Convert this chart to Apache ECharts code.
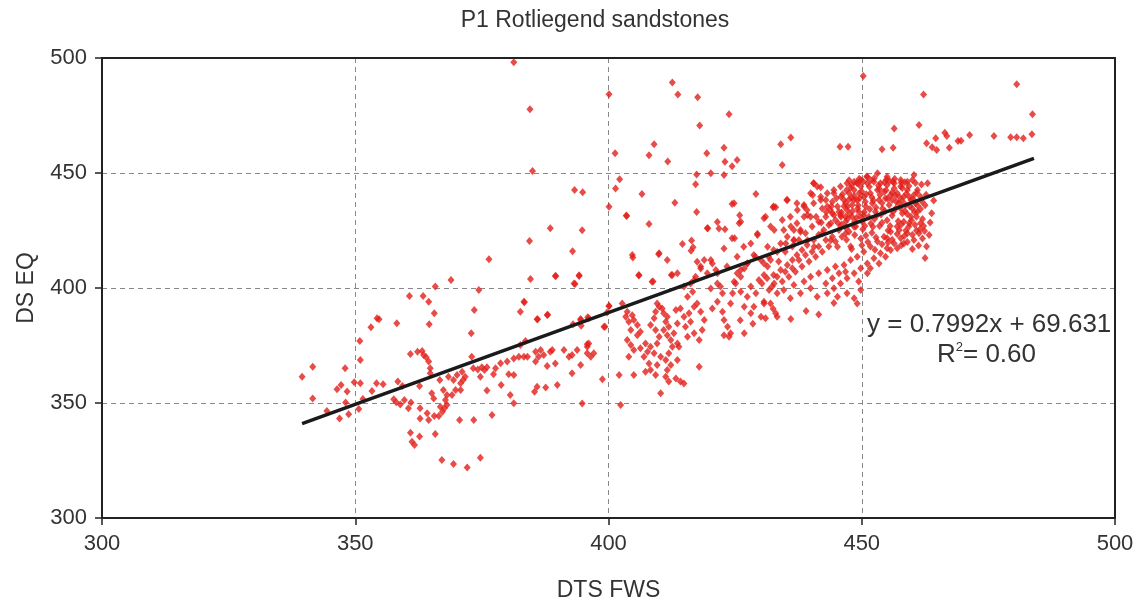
<!DOCTYPE html>
<html><head><meta charset="utf-8">
<script src="https://cdn.jsdelivr.net/npm/echarts@6/dist/echarts.min.js"></script>
<style>html,body{margin:0;padding:0;background:#fff}#c{width:1137px;height:603px}</style>
</head><body><div id="c"></div>
<script>
var titleText = "P1 Rotliegend sandstones";
var xName = "DTS FWS";
var yName = "DS EQ";
var xTicks = [300, 350, 400, 450, 500];
var yTicks = [300, 350, 400, 450, 500];
var eqText = "y = 0.7992x + 69.631";
var r2Text = "0.60";
var trendLine = [[339.5, 341.0], [484, 456.4]];

var leftPts = [[339.5,361.4],[341.6,365.8],[341.6,352.0],[344.4,346.5],[346.9,343.3],[346.4,356.0],[347.2,357.8],[348.0,365.1],[348.4,355.0],[348.1,350.2],[348.7,345.1],[349.8,359.0],[350.7,347.4],[350.9,377.0],[351.0,368.7],[351.0,358.6],[351.5,351.7],[353.1,382.9],[354.3,386.8],[354.7,386.4],[353.3,355.2],[354.2,358.6],[355.5,358.1],[357.6,351.6],[358.1,350.3],[358.9,349.4],[358.2,384.7],[358.4,359.3],[359.3,357.4],[359.7,351.3],[360.5,347.7],[360.7,396.5],[360.9,371.3],[361.0,350.2],[360.9,337.1],[361.2,333.2],[361.7,331.7],[362.3,372.3],[363.2,372.6],[363.5,370.9],[364.0,369.9],[364.5,368.0],[364.8,365.1],[362.7,357.4],[362.8,347.7],[362.8,343.3],[362.7,335.4],[363.4,396.5],[364.5,394.0],[364.6,384.2],[365.6,389.0],[364.2,345.5],[364.5,342.6],[365.1,354.2],[365.5,352.0],[365.6,344.3],[366.5,344.3],[367.2,346.2],[366.8,348.4],[365.8,336.5],[365.8,400.6],[364.8,362.9],[366.7,360.0],[367.4,355.7],[367.8,351.3],[368.1,353.5],[367.1,325.2],[369.4,323.5],[372.1,322.0],[374.7,326.2],[370.6,342.6],[373.4,342.6],[377.0,344.8],[368.9,403.5],[368.4,361.4],[369.4,360.0],[370.1,362.2],[371.1,363.6],[371.7,361.4],[370.8,358.6],[369.8,355.7],[369.1,353.5],[370.8,355.7],[371.3,360.0],[368.1,349.1],[367.6,347.7],[373.0,370.1],[372.9,380.3],[373.5,390.4],[374.4,399.1],[373.3,365.1],[374.2,364.6],[375.0,365.5],[375.5,364.3],[374.7,361.4],[376.0,365.5],[377.7,365.1],[377.3,362.5],[378.7,367.3],[380.0,368.0],[381.3,369.4],[382.3,370.1],[383.3,370.1],[384.0,370.1],[381.3,362.2],[380.6,353.5],[380.3,362.5],[378.8,357.8],[376.0,355.4],[381.3,349.9],[382.6,389.7],[383.3,394.0]];

var upperPts = [[376.4,412.5],[384.4,420.4],[385.0,450.9],[384.6,403.9],[383.4,393.8],[386.0,386.4],[388.0,388.4],[388.5,426.0],[389.6,405.2],[392.9,416.0],[393.3,442.6],[394.9,441.6],[394.8,425.1],[394.2,405.5],[393.4,401.7],[394.5,386.5],[395.9,387.3],[393.0,384.2],[394.6,383.6],[399.3,383.2],[400.1,435.3],[401.3,458.6],[401.4,443.3],[402.2,447.3],[400.1,392.2],[399.7,389.4],[395.8,375.5],[383.6,377.0],[382.6,375.2],[381.3,498.1],[384.5,477.7],[400.1,484.2],[403.5,431.5],[406.6,440.9],[408.0,457.7],[409.0,462.5],[408.0,427.8],[411.7,455.0],[412.6,489.4],[413.7,484.1],[417.6,482.9],[423.8,475.5],[418.0,470.7],[419.4,458.6],[422.8,461.0],[423.0,454.9],[425.4,455.7],[424.4,452.9],[417.4,449.4],[420.2,449.9],[422.8,449.1],[417.2,445.1],[413.1,437.1],[417.4,433.0],[424.4,436.5],[425.9,431.6],[425.8,428.1],[423.0,425.5],[421.5,428.7],[419.5,426.0],[429.1,440.9],[429.4,423.6],[424.9,421.6],[414.6,419.1],[416.4,420.6],[416.7,417.7],[450.3,492.2],[462.2,484.1],[480.6,488.6],[483.7,475.5],[461.3,470.9],[456.4,469.4],[456.2,461.0],[454.0,460.3],[462.8,462.9],[463.9,461.2],[464.8,460.0],[464.6,465.1],[466.4,467.5],[466.8,466.1],[467.3,461.0],[469.0,463.9],[469.6,464.0],[471.3,466.5],[476.1,466.1],[479.4,465.5],[480.6,465.5],[481.9,465.1],[483.6,466.8],[403.6,431.3],[404.8,413.3],[406.0,405.4],[408.8,402.8],[409.9,414.7],[412.4,405.7],[416.3,416.2],[419.6,426.0],[430.7,430.3],[432.5,435.1],[433.0,435.1],[434.0,462.5],[436.0,465.4],[434.3,453.5],[435.2,438.3],[440.5,445.5],[441.9,443.8],[445.7,461.4],[447.3,461.4],[460.3,449.1]];

var midPts = [[385.6,372.3],[386.6,373.0],[386.2,370.1],[387.2,370.9],[388.5,372.3],[388.9,373.0],[385.6,368.0],[387.9,366.1],[389.5,367.2],[391.2,373.0],[392.2,370.1],[392.8,370.9],[393.8,373.0],[394.5,366.5],[395.8,374.5],[395.8,371.6],[396.5,370.1],[397.1,371.6],[396.1,375.9],[392.8,362.9],[385.9,357.1],[385.4,354.9],[387.6,356.7],[389.9,357.8],[398.8,360.3],[394.8,349.8],[394.5,386.1],[396.1,386.8],[399.1,383.2],[400.1,392.2],[385.9,386.4],[387.9,388.3],[389.5,405.2],[393.2,402.0],[394.2,405.2],[402.7,393.3],[403.7,389.7],[403.4,387.5],[404.0,385.3],[404.7,388.2],[405.0,386.1],[405.7,383.9],[404.4,381.7],[403.7,377.4],[405.7,379.5],[406.3,381.0],[404.4,375.2],[405.0,373.0],[404.0,370.1],[405.0,362.2],[402.1,362.2],[402.4,349.1],[406.3,373.8],[407.3,375.9],[407.7,372.3],[408.3,374.5],[409.0,371.6],[407.0,370.1],[408.0,367.2],[408.3,364.3],[409.3,362.2],[407.3,363.6],[409.6,366.5],[410.3,370.1],[409.6,375.9],[410.0,378.8],[409.3,381.7],[408.3,383.9],[409.0,386.8],[409.3,389.7],[410.0,391.9],[409.6,393.3],[410.6,391.1],[410.9,389.0],[411.6,387.5],[411.3,385.3],[411.9,383.2],[410.9,381.7],[411.6,379.5],[412.3,377.4],[412.9,380.3],[412.6,374.5],[413.6,375.9],[411.9,371.6],[411.3,368.7],[412.3,366.5],[411.6,364.3],[411.3,361.4],[411.9,359.3],[413.3,360.7],[414.2,359.3],[414.9,358.5],[413.6,368.7],[413.9,374.5],[413.6,384.6],[413.3,390.4],[414.2,391.1],[414.9,387.5],[415.2,383.2],[416.2,385.3],[415.6,378.8],[416.9,380.3],[415.9,389.0],[416.9,391.9],[417.5,393.3],[418.2,389.7],[418.9,386.1],[418.5,381.7],[417.9,377.4],[417.9,365.8],[410.3,354.2],[415.6,396.2],[416.6,398.4],[416.2,402.0],[417.2,404.9],[418.2,408.5],[417.5,411.4],[418.9,412.2],[420.5,410.7],[419.5,406.4],[421.2,407.8],[420.2,399.8],[421.5,402.0],[422.5,397.7],[421.5,394.0],[420.5,391.1],[422.5,389.7],[422.8,386.1],[423.5,383.2],[424.1,380.3],[424.1,393.3],[424.5,397.7],[425.1,402.0],[426.1,404.9],[425.4,406.4],[426.8,408.5],[427.4,410.7],[426.1,398.4],[427.4,396.2],[426.8,391.9],[428.1,389.0],[428.7,391.9],[430.1,387.5],[431.0,386.8],[430.7,394.0],[429.1,397.7],[428.1,400.6],[429.7,403.5],[430.7,405.6],[431.4,409.3],[430.1,412.2],[428.7,414.3],[432.0,412.2],[432.7,402.0],[433.3,404.9],[431.7,399.1],[432.0,393.3],[433.3,387.5],[426.8,380.3],[422.8,379.5],[423.8,378.8],[404.7,414.3],[406.0,405.6],[410.0,415.1],[412.6,405.6],[408.6,402.7],[418.2,409.3],[420.2,412.2],[421.5,406.4],[423.4,409.3],[425.4,413.6],[416.9,403.5],[414.9,400.6],[413.6,406.4],[411.6,412.2],[422.1,400.6],[424.8,402.7],[426.1,407.8],[427.4,410.7],[429.0,413.6],[436.0,386.5],[439.0,390.0],[441.5,388.5],[444.5,393.5],[432.5,391.0],[428.5,384.5],[426.0,386.0]];

var clusterPts = [[440.5,445.5],[441.2,444.1],[439.9,441.2],[442.9,438.3],[444.2,437.5],[442.2,434.6],[443.8,433.9],[445.2,435.4],[446.5,438.3],[447.5,441.2],[448.5,442.6],[449.8,444.1],[451.1,445.5],[452.4,446.2],[453.7,445.5],[455.0,444.8],[456.4,445.5],[457.7,444.1],[459.0,446.2],[460.0,447.0],[461.0,442.6],[461.6,439.7],[460.6,436.8],[459.7,438.3],[458.3,439.7],[457.0,441.2],[455.7,440.4],[454.4,441.9],[453.1,442.6],[451.7,441.2],[450.4,439.7],[449.1,438.3],[448.1,436.1],[447.1,433.9],[445.8,431.7],[444.8,429.6],[443.5,427.4],[442.5,425.2],[441.5,423.1],[440.5,420.9],[439.2,418.7],[438.2,416.5],[437.2,414.4],[436.3,412.2],[435.3,410.0],[434.0,407.8],[432.6,405.7],[431.3,404.2],[430.3,402.0],[432.3,400.6],[434.6,399.1],[436.6,401.3],[438.6,402.8],[439.9,404.9],[441.5,406.4],[443.2,407.8],[444.8,409.3],[446.5,410.0],[447.8,412.2],[449.1,413.6],[450.4,415.8],[451.7,418.0],[453.1,420.2],[454.4,422.3],[455.7,424.5],[457.0,426.7],[458.3,428.8],[459.7,431.0],[461.0,433.2],[461.6,428.1],[461.3,423.8],[460.3,420.9],[459.0,423.8],[457.7,421.6],[456.4,419.4],[455.0,417.3],[453.7,415.1],[452.4,412.9],[451.1,410.7],[449.8,408.6],[448.5,406.4],[447.1,404.2],[445.8,402.0],[444.5,399.9],[443.2,397.7],[445.2,396.2],[447.1,397.7],[448.5,395.5],[449.1,393.3],[449.8,399.1],[449.4,402.8],[451.1,406.4],[451.7,408.6],[453.4,410.7],[454.7,413.6],[455.7,416.5],[457.0,417.3],[458.3,419.4],[459.3,426.7],[458.0,432.5],[456.7,434.6],[455.4,436.1],[454.1,434.6],[452.7,433.2],[451.4,431.0],[450.1,428.8],[448.8,426.7],[447.5,424.5],[446.1,422.3],[444.8,420.2],[443.5,418.0],[442.2,415.8],[440.9,413.6],[439.6,411.5],[438.2,409.3],[436.9,407.1],[435.6,404.9],[434.3,402.8],[433.3,397.7],[430.7,393.3],[433.0,389.0],[435.9,395.5],[437.9,397.7],[439.9,399.9],[441.2,396.2],[442.9,402.0],[444.2,404.2],[445.5,406.4],[446.8,407.1],[447.8,418.0],[446.8,428.8],[445.5,425.2],[444.2,422.3],[442.9,420.9],[441.5,418.0],[440.2,415.8],[438.9,414.4],[437.6,412.2],[436.3,408.6],[434.9,407.1],[433.6,411.5],[434.9,415.8],[436.3,418.0],[437.6,420.9],[438.9,423.8],[440.2,426.7],[441.5,428.8],[442.9,431.0],[444.2,432.5],[445.5,433.2],[446.8,431.0],[448.1,431.0],[449.4,433.2],[450.8,435.4],[452.1,436.8],[453.4,438.3],[454.7,439.0],[456.0,438.3],[457.3,436.8],[458.7,436.1],[460.0,434.6],[460.3,440.4],[459.0,442.6],[457.7,447.0],[456.4,443.3],[455.0,448.4],[453.1,449.9],[451.1,448.4],[449.8,447.0],[448.5,446.2],[447.1,445.5],[445.8,444.1],[444.5,442.6],[443.2,441.2],[441.9,439.7],[440.5,436.8],[439.2,433.9],[438.6,431.0],[437.2,428.1],[436.6,425.2],[435.3,422.3],[434.0,419.4],[432.6,416.5],[431.6,413.6],[430.7,410.7],[432.0,426.7],[432.6,435.4],[431.0,431.0],[434.6,425.2],[435.9,431.0],[437.2,436.8],[438.6,435.4],[439.9,431.0],[437.9,425.2],[436.6,420.9]];

var corePts = [[448.5,440.1],[449.3,436.0],[450.0,442.0],[450.7,437.5],[451.5,444.0],[452.0,439.5],[452.8,435.0],[453.5,443.0],[454.0,437.0],[454.8,442.5],[455.5,446.5],[456.0,441.5],[456.8,437.5],[457.5,439.5],[458.0,443.5],[458.8,441.0],[459.5,435.5],[460.2,438.5],[461.0,436.0],[449.0,430.5],[450.5,433.0],[451.8,428.0],[452.5,430.0],[453.8,432.0],[455.0,429.5],[456.0,431.5],[457.2,429.0],[458.5,433.5],[459.8,429.5],[460.8,431.0],[447.5,438.5],[446.5,435.5],[447.0,442.5],[448.0,444.8],[449.5,447.5],[451.0,448.5],[452.5,447.8],[454.5,446.0],[456.5,447.5],[458.5,446.0],[450.2,425.5],[452.0,424.0],[453.5,427.0],[455.2,425.0],[457.0,423.5],[458.7,425.0],[460.5,427.5],[461.5,425.5],[462.0,430.0],[462.5,436.0],[449.8,421.5],[451.2,420.0],[454.0,419.0],[456.0,421.0],[459.0,420.0],[461.2,418.5],[462.0,421.5],[446.0,427.5],[447.2,430.0],[448.2,433.5],[445.0,439.0],[444.0,435.5],[443.0,433.0],[442.0,428.5],[441.0,431.0],[462.8,418.0],[463.3,423.0],[462.5,413.0],[463.5,428.5],[462.7,440.5],[461.8,445.0],[435.3,438.3],[437.3,433.9],[438.6,436.1],[439.3,431.7],[440.3,440.4],[441.9,438.3],[443.2,435.4],[444.5,431.7],[443.9,428.1],[445.9,431.0],[447.2,435.4],[448.5,438.3],[449.5,441.2],[449.2,445.5],[447.5,446.9],[445.9,439.7],[444.5,441.2],[429.4,423.0],[432.7,425.2],[434.3,429.6],[436.0,426.7],[437.9,424.5],[439.3,420.8],[436.6,420.8],[435.0,419.4],[440.6,417.9],[442.2,423.7],[443.9,420.8],[445.2,417.9],[446.8,423.7],[448.5,426.6],[449.8,431.0],[428.1,419.4],[426.7,417.9],[431.4,417.9],[433.3,415.8],[424.4,421.6],[426.1,428.8],[424.8,436.8],[421.8,425.9],[422.8,417.2]];

var coreFillPts = [[446.2,440.8],[447.8,443.6],[449.0,445.8],[450.3,446.3],[451.8,446.9],[453.3,444.6],[454.9,447.2],[456.2,446.2],[457.8,445.8],[459.3,444.4],[460.6,445.6],[446.8,437.0],[448.0,439.2],[449.6,439.0],[450.9,440.8],[452.3,438.0],[453.6,440.4],[455.1,438.8],[456.6,440.2],[458.0,437.8],[459.4,439.6],[460.9,441.4],[461.9,437.6],[446.0,432.8],[447.6,432.2],[449.2,434.6],[450.4,431.6],[451.6,434.2],[453.0,431.6],[454.6,433.4],[456.2,433.2],[457.6,434.8],[459.0,432.2],[460.4,433.0],[461.6,434.4],[445.4,428.0],[446.9,426.2],[448.6,428.8],[450.6,427.0],[452.2,426.6],[454.0,428.4],[455.6,427.0],[457.8,427.6],[459.4,428.2],[460.8,425.0],[462.2,427.0],[447.0,421.0],[448.6,423.0],[450.8,422.8],[452.8,422.0],[455.0,421.6],[457.4,425.2],[458.4,422.6],[460.0,423.2],[448.0,417.0],[450.0,418.6],[452.6,416.6],[455.2,419.8],[457.8,418.6],[460.0,417.0],[462.4,424.8],[463.8,432.5],[463.0,445.5],[464.2,438.0]];

var chart = echarts.init(document.getElementById('c'), null, {renderer: 'canvas'});
var FONT = 'Liberation Sans, Arial, sans-serif';
var dotStyle = {color: '#e21f1a'};
function scat(d) {
  return {type: 'scatter', data: d, symbol: 'diamond', symbolSize: [7, 8], itemStyle: dotStyle, silent: true, z: 2};
}
var labelStyle = {fontFamily: FONT, fontSize: 22, color: '#333'};
var dashed = {show: true, showMinLine: false, showMaxLine: false, lineStyle: {color: '#888', width: 1, type: [5, 4]}};
chart.setOption({
  animation: false,
  backgroundColor: '#fff',
  title: {text: titleText, left: 590, top: 4, textAlign: 'center',
    textStyle: {fontFamily: FONT, fontSize: 23, fontWeight: 'normal', color: '#333'}},
  grid: {left: 102, right: 22, top: 58, bottom: 85, containLabel: false, outerBoundsMode: 'none'},
  xAxis: [{type: 'value', min: 300, max: 500, interval: 50,
    name: xName, nameLocation: 'middle', nameGap: 61,
    nameTextStyle: {fontFamily: FONT, fontSize: 23, color: '#333'},
    axisLine: {show: true, lineStyle: {color: '#222', width: 2}},
    axisTick: {show: true, length: 7, lineStyle: {color: '#222', width: 1.5}},
    axisLabel: Object.assign({margin: 15, formatter: function (v) { return xTicks.indexOf(v) >= 0 ? String(v) : ''; }}, labelStyle),
    splitLine: dashed},
   {type: 'value', min: 300, max: 500, position: 'top', axisLine: {show: true, onZero: false, lineStyle: {color: '#222', width: 2}},
    axisTick: {show: false}, axisLabel: {show: false}, splitLine: {show: false}}],
  yAxis: [{type: 'value', min: 300, max: 500, interval: 50,
    name: yName, nameLocation: 'middle', nameGap: 64, nameRotate: 90,
    nameTextStyle: {fontFamily: FONT, fontSize: 23, color: '#333'},
    axisLine: {show: true, lineStyle: {color: '#222', width: 2}},
    axisTick: {show: true, length: 7, lineStyle: {color: '#222', width: 1.5}},
    axisLabel: Object.assign({margin: 15, formatter: function (v) { return yTicks.indexOf(v) >= 0 ? String(v) : ''; }}, labelStyle),
    splitLine: dashed},
   {type: 'value', min: 300, max: 500, position: 'right', axisLine: {show: true, onZero: false, lineStyle: {color: '#222', width: 2}},
    axisTick: {show: false}, axisLabel: {show: false}, splitLine: {show: false}}],
  series: [
    scat(leftPts), scat(upperPts), scat(midPts), scat(clusterPts), scat(corePts), scat(coreFillPts),
    {type: 'line', data: trendLine, symbol: 'none', silent: true, z: 5,
      lineStyle: {color: '#1a1a1a', width: 3.5}}
  ],
  graphic: [
    {type: 'text', left: 867, top: 312, z: 10, style: {text: eqText, fontFamily: FONT, fontSize: 26, fill: '#333'}},
    {type: 'text', left: 937, top: 341, z: 10, style: {
      text: '{a|R}{s|2}{a|= ' + r2Text + '}', fill: '#333',
      rich: {a: {fontFamily: FONT, fontSize: 26, fill: '#333', color: '#333'},
             s: {fontFamily: FONT, fontSize: 13, fill: '#333', color: '#333', verticalAlign: 'top', padding: [0, 0, 14, 0]}}}}
  ]
});
</script></body></html>
